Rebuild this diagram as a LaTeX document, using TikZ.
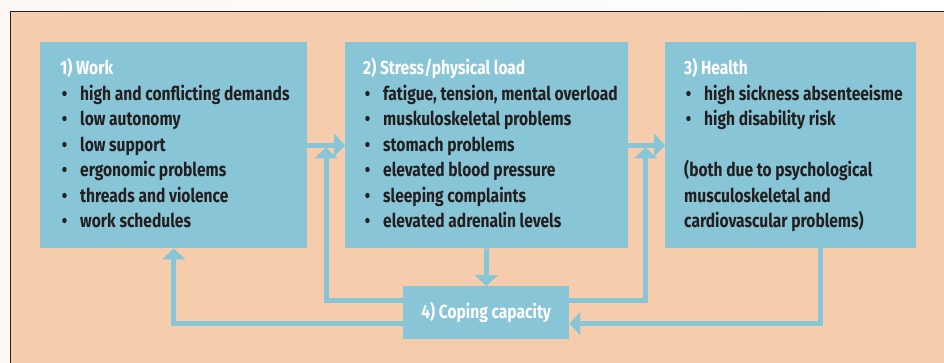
\documentclass[tikz,border=0pt]{standalone}
\usepackage{fontspec}
\setmainfont{Fira Sans}[FakeStretch=0.82]
\usepackage{xcolor}
\usepackage{tikz}
\usetikzlibrary{arrows.meta,positioning,calc}
\definecolor{peach}{HTML}{F6CDAC}
\definecolor{paper}{HTML}{FDF8F3}
\definecolor{boxblue}{HTML}{88C5D6}
\definecolor{inkdark}{HTML}{231F20}
\newcommand{\blt}{\makebox[0pt][r]{\textbullet\hspace{13pt}}}

\begin{document}
\begin{tikzpicture}[x=1pt,y=-1pt,
    font=\fontsize{19}{25.5}\selectfont\bfseries,
    block/.style={fill=boxblue,inner sep=0pt,anchor=north west},
    titletext/.style={anchor=base west,inner sep=0pt,text=white},
    itemtext/.style={anchor=base west,inner sep=0pt,text=inkdark},
    flowarrow/.style={draw=boxblue,line width=5pt,
      -{Triangle[length=11pt,width=23pt]}}]
  \useasboundingbox (0,0) rectangle (944,363);
  % backdrop
  \fill[paper] (0,0) rectangle (944,363);
  \shade[left color=paper,middle color=peach!75!white,right color=white]
    (0,0) rectangle (944,11);
  \fill[peach] (10,11) rectangle (944,363);
  \draw[line width=1.2pt,inkdark] (10.5,363) -- (10.5,11.5) -- (944,11.5);
  % blocks
  \node[block,minimum width=267,minimum height=206] (work) at (40,42) {};
  \node[block,minimum width=283,minimum height=206] (stress) at (345,42) {};
  \node[block,minimum width=251,minimum height=206] (health) at (665,42) {};
  \node[block,minimum width=166,minimum height=53] (coping) at (403,286) {};
  \coordinate (join12) at (326,147.5);
  \coordinate (join23) at (645.5,147.5);
  % connectors
  \draw[flowarrow] (work.east) -- (stress.west);
  \draw[flowarrow] (stress.east) -- (health.west);
  \draw[flowarrow] (stress.south) -- (coping.north);
  \draw[flowarrow] ([yshift=12.5pt]coping.west) -| (join12);
  \draw[flowarrow] ([yshift=12.5pt]coping.east) -| (join23);
  \draw[flowarrow] ([yshift=-11pt]coping.west) -| (work.south);
  \draw[flowarrow] ([xshift=29.5pt]health.south) |- ([yshift=-11pt]coping.east);
  % texts
  \node[titletext] (worktitle) at (60,75) {1) Work};
  \foreach \txt [count=\i] in {{high and conflicting demands},{low autonomy},
      {low support},{ergonomic problems},{threads and violence},{work schedules}}
    \node[itemtext] (work-\i) at (80,75+25.5*\i) {\blt\txt};
  \node[titletext] (stresstitle) at (363,75) {2) Stress/physical load};
  \foreach \txt [count=\i] in {{fatigue, tension, mental overload},
      {muskuloskeletal problems},{stomach problems},{elevated blood pressure},
      {sleeping complaints},{elevated adrenalin levels}}
    \node[itemtext] (stress-\i) at (383,75+25.5*\i) {\blt\txt};
  \node[titletext] (healthtitle) at (684,75) {3) Health};
  \foreach \txt [count=\i] in {{high sickness absenteeisme},{high disability risk}}
    \node[itemtext] (health-\i) at (704,75+25.5*\i) {\blt\txt};
  \foreach \txt [count=\i from 4] in {{(both due to psychological},
      {musculoskeletal and},{cardiovascular problems)}}
    \node[itemtext] (note-\i) at (684,75+25.5*\i) {\txt};
  \node[text=white,inner sep=0pt] (copingtext) at (coping) {4) Coping capacity};
\end{tikzpicture}
\end{document}
